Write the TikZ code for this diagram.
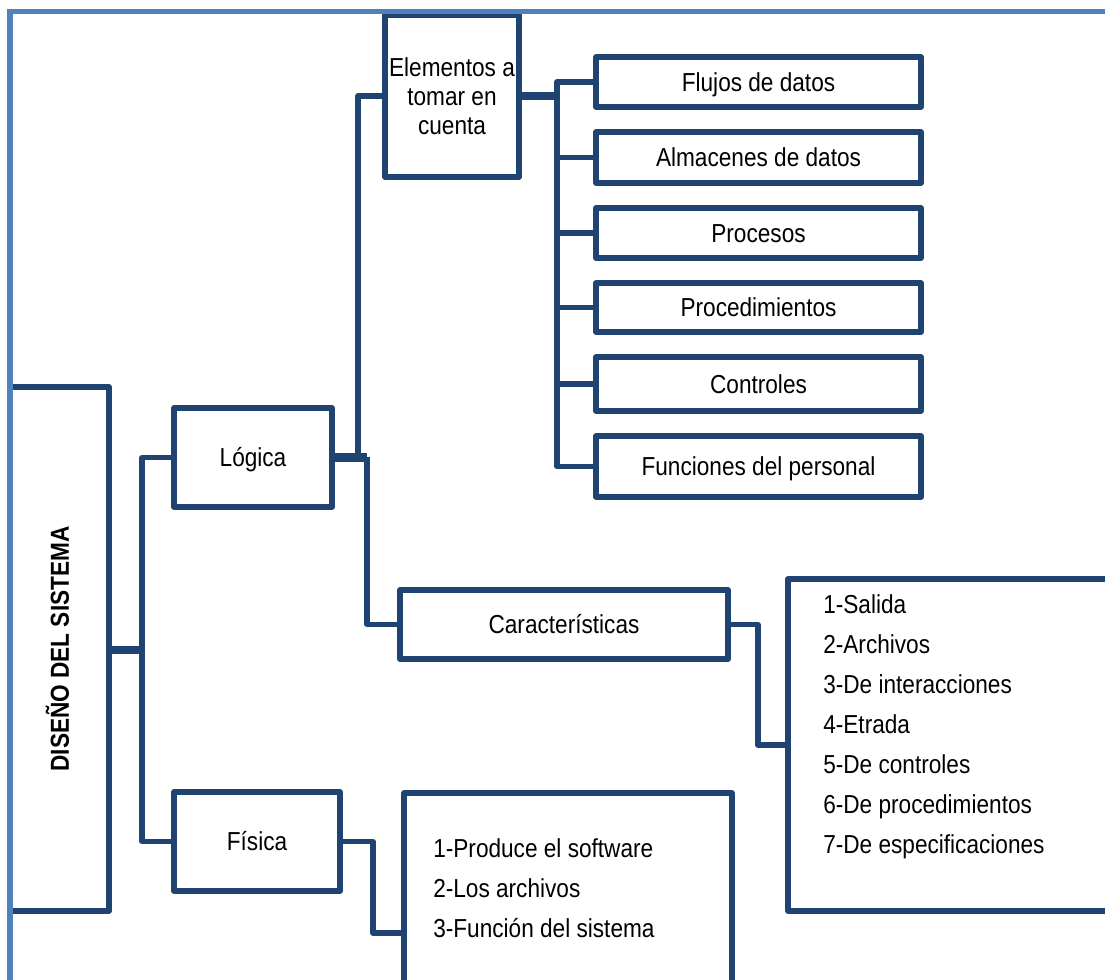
\documentclass[tikz,border=0pt]{standalone}
\usepackage{fontspec}
\setmainfont{Liberation Sans}[FakeStretch=0.87]
\usetikzlibrary{backgrounds}
\definecolor{navy}{RGB}{31,68,114}
\definecolor{frameblue}{RGB}{79,129,189}
\newcommand\labfont{\fontsize{19.5pt}{21.75pt}\selectfont}
\begin{document}
\begin{tikzpicture}[x=0.75pt,y=-0.75pt,
  box/.style={draw=navy, line width=4pt, line join=round, fill=white,
    inner sep=0pt, font=\labfont, text height=14pt, text depth=0pt},
  tallbox/.style={draw=navy, line width=4pt, line join=round, fill=white,
    inner sep=0pt, font=\labfont, align=center},
  link/.style={draw=navy, line width=4pt, line join=round},
  bar/.style={draw=navy, line width=6.5pt},
  item/.style={anchor=base west, inner sep=0pt, font=\labfont},
  frameline/.style={draw=frameblue, line width=3.8pt}]
\useasboundingbox (0,0) rectangle (1105,979);
\clip (0,0) rectangle (1105,979);

% junction points of the connectors
\coordinate (rootJ) at (142,650);
\coordinate (logA) at (358,461);
\coordinate (logB) at (367,457);
\coordinate (elemJ) at (557,96);
\coordinate (carJ) at (758,700);
\coordinate (fisJ) at (373,880);
\coordinate (fisT) at (404,933);

% boxes
\node[box, minimum width=99*0.75pt, minimum height=524*0.75pt] (root) at (59.5,649) {};
\node[box, minimum width=158*0.75pt, minimum height=99*0.75pt] (logica) at (253,457.5) {Lógica};
\node[box, minimum width=166*0.75pt, minimum height=99*0.75pt] (fisica) at (257,841.5) {Física};
\node[tallbox, minimum width=134*0.75pt, minimum height=162*0.75pt] (elem) at (452,96) {Elementos a\\tomar en\\cuenta};
\node[box, minimum width=328*0.75pt, minimum height=69*0.75pt] (carac) at (564,624.5) {Características};

\node[box, minimum width=325*0.75pt, minimum height=50*0.75pt] (flujos) at (758.5,82) {Flujos de datos};
\node[box, minimum width=325*0.75pt, minimum height=51*0.75pt] (almac) at (758.5,157.5) {Almacenes de datos};
\node[box, minimum width=325*0.75pt, minimum height=50*0.75pt] (proces) at (758.5,233) {Procesos};
\node[box, minimum width=325*0.75pt, minimum height=49*0.75pt] (proced) at (758.5,307.5) {Procedimientos};
\node[box, minimum width=325*0.75pt, minimum height=54*0.75pt] (contr) at (758.5,384) {Controles};
\node[box, minimum width=325*0.75pt, minimum height=61*0.75pt] (funci) at (758.5,466.5) {Funciones del personal};

\node[box, minimum width=342*0.75pt, minimum height=332*0.75pt] (carlist) at (959,745) {};
\node[box, minimum width=328*0.75pt, minimum height=217*0.75pt] (fislist) at (568,901.5) {};

% vertical title of the root box
\node[rotate=90, inner sep=0pt, font=\labfont\bfseries, text height=14pt, text depth=0pt]
  (rootlabel) at (root.center) {DISEÑO DEL SISTEMA};

% list of characteristics
\foreach \t [count=\i] in {1-Salida, 2-Archivos, 3-De interacciones, 4-Etrada,
    5-De controles, 6-De procedimientos, 7-De especificaciones}
  \node[item] (car\i) at (823,{573+40*\i}) {\t};

% list of physical tasks
\foreach \t [count=\i] in {1-Produce el software, 2-Los archivos, 3-Función del sistema}
  \node[item] (fis\i) at (433,{817+40*\i}) {\t};

% connectors, beneath the boxes
\begin{scope}[on background layer]
  \draw[bar] (root.east |- rootJ) -- (rootJ);
  \draw[link] (logica.west) -| (rootJ) |- (fisica.west);
  \draw[bar] (logica.east) -- (logica.east -| logB);
  \draw[link] (logA) |- (elem.west);
  \draw[link] (logB) |- (carac.west);
  \draw[bar] (elem.east) -- (elemJ);
  \draw[link] (flujos.west) -| (elemJ) |- (funci.west);
  \foreach \b in {almac, proces, proced, contr}
    \draw[link] (\b.west) -- (\b.west -| elemJ);
  \draw[link] (carac.east) -| (carJ) |- (carlist.west);
  \draw[link] (fisica.east) -| (fisJ) |- (fisT);
\end{scope}

% outer frame
\draw[frameline] (10,11.5) rectangle (1140,1010);
\end{tikzpicture}
\end{document}
